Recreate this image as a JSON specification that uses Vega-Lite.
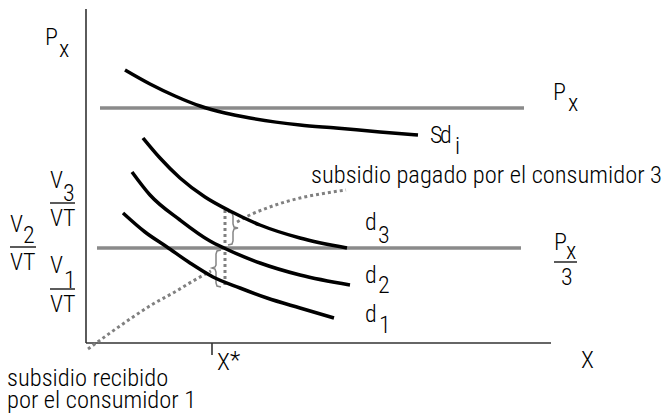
{
  "$schema": "https://vega.github.io/schema/vega-lite/v6.json",
  "width": 672,
  "height": 419,
  "autosize": {"type": "none"},
  "padding": 0,
  "config": {"view": {"stroke": null}},
  "datasets": {
    "rules": [
      {"x": 86, "y": 9, "x2": 86, "y2": 343},
      {"x": 86, "y": 343, "x2": 551, "y2": 343},
      {"x": 212, "y": 343, "x2": 212, "y2": 355},
      {"x": 50, "y": 203, "x2": 75, "y2": 203},
      {"x": 10, "y": 247, "x2": 36, "y2": 247},
      {"x": 50, "y": 289, "x2": 75, "y2": 289},
      {"x": 554, "y": 262, "x2": 577, "y2": 262}
    ],
    "prices": [
      {"x": 100, "x2": 524, "y": 108},
      {"x": 97, "x2": 521, "y": 248}
    ],
    "curves": [
      {"c": "Sd", "x": 125, "y": 70}, {"c": "Sd", "x": 150, "y": 84}, {"c": "Sd", "x": 175, "y": 96}, {"c": "Sd", "x": 200, "y": 106}, {"c": "Sd", "x": 225, "y": 113}, {"c": "Sd", "x": 250, "y": 118}, {"c": "Sd", "x": 300, "y": 125}, {"c": "Sd", "x": 336, "y": 128}, {"c": "Sd", "x": 380, "y": 132}, {"c": "Sd", "x": 418, "y": 135},
      {"c": "d3", "x": 143, "y": 138}, {"c": "d3", "x": 160, "y": 158}, {"c": "d3", "x": 180, "y": 178}, {"c": "d3", "x": 205, "y": 197}, {"c": "d3", "x": 230, "y": 211}, {"c": "d3", "x": 260, "y": 225}, {"c": "d3", "x": 300, "y": 238}, {"c": "d3", "x": 347, "y": 248},
      {"c": "d2", "x": 132, "y": 172}, {"c": "d2", "x": 150, "y": 195}, {"c": "d2", "x": 180, "y": 220}, {"c": "d2", "x": 210, "y": 241}, {"c": "d2", "x": 224, "y": 248}, {"c": "d2", "x": 260, "y": 263}, {"c": "d2", "x": 300, "y": 275}, {"c": "d2", "x": 350, "y": 285},
      {"c": "d1", "x": 123, "y": 213}, {"c": "d1", "x": 145, "y": 232}, {"c": "d1", "x": 167, "y": 247}, {"c": "d1", "x": 190, "y": 263}, {"c": "d1", "x": 213, "y": 277}, {"c": "d1", "x": 240, "y": 288}, {"c": "d1", "x": 267, "y": 298}, {"c": "d1", "x": 300, "y": 308}, {"c": "d1", "x": 334, "y": 318}
    ],
    "dotted": [
      {"s": "low", "x": 88, "y": 349}, {"s": "low", "x": 110, "y": 333}, {"s": "low", "x": 133, "y": 317}, {"s": "low", "x": 153, "y": 304}, {"s": "low", "x": 173, "y": 293}, {"s": "low", "x": 193, "y": 281}, {"s": "low", "x": 211, "y": 271},
      {"s": "up", "x": 237, "y": 222}, {"s": "up", "x": 250, "y": 215}, {"s": "up", "x": 267, "y": 208}, {"s": "up", "x": 285, "y": 202}, {"s": "up", "x": 300, "y": 198}, {"s": "up", "x": 320, "y": 194}, {"s": "up", "x": 346, "y": 190}
    ],
    "vdot": [
      {"x": 225, "y": 210, "y2": 287}
    ],
    "braces": [
      {"b": "up", "i": 0, "x": 228, "y": 212}, {"b": "up", "i": 1, "x": 232, "y": 213}, {"b": "up", "i": 2, "x": 233, "y": 216}, {"b": "up", "i": 3, "x": 233, "y": 224}, {"b": "up", "i": 4, "x": 234, "y": 227}, {"b": "up", "i": 5, "x": 238, "y": 228}, {"b": "up", "i": 6, "x": 234, "y": 229}, {"b": "up", "i": 7, "x": 233, "y": 232}, {"b": "up", "i": 8, "x": 233, "y": 241}, {"b": "up", "i": 9, "x": 232, "y": 244}, {"b": "up", "i": 10, "x": 228, "y": 245},
      {"b": "low", "i": 0, "x": 221, "y": 250}, {"b": "low", "i": 1, "x": 217, "y": 251}, {"b": "low", "i": 2, "x": 216, "y": 254}, {"b": "low", "i": 3, "x": 216, "y": 265}, {"b": "low", "i": 4, "x": 215, "y": 267}, {"b": "low", "i": 5, "x": 212, "y": 268}, {"b": "low", "i": 6, "x": 215, "y": 269}, {"b": "low", "i": 7, "x": 216, "y": 272}, {"b": "low", "i": 8, "x": 216, "y": 283}, {"b": "low", "i": 9, "x": 217, "y": 286}, {"b": "low", "i": 10, "x": 221, "y": 287}
    ],
    "labels": [
      {"x": 45, "y": 45, "t": "P"}, {"x": 59, "y": 57, "t": "x"},
      {"x": 553, "y": 100, "t": "P"}, {"x": 568, "y": 111, "t": "x"},
      {"x": 430, "y": 143, "t": "S"}, {"x": 440, "y": 143, "t": "d"}, {"x": 455, "y": 154, "t": "i"},
      {"x": 365, "y": 230, "t": "d"}, {"x": 378, "y": 243, "t": "3"},
      {"x": 365, "y": 283, "t": "d"}, {"x": 378, "y": 293, "t": "2"},
      {"x": 365, "y": 322, "t": "d"}, {"x": 379, "y": 333, "t": "1"},
      {"x": 554, "y": 250, "t": "P"}, {"x": 566, "y": 259, "t": "x"}, {"x": 561, "y": 285, "t": "3"},
      {"x": 581, "y": 368, "t": "X"},
      {"x": 217, "y": 370, "t": "X"}, {"x": 230, "y": 368, "t": "*"},
      {"x": 50, "y": 188, "t": "V"}, {"x": 63, "y": 201, "t": "3"}, {"x": 50, "y": 226, "t": "VT"},
      {"x": 10, "y": 232, "t": "V"}, {"x": 23, "y": 243, "t": "2"}, {"x": 10, "y": 270, "t": "VT"},
      {"x": 50, "y": 273, "t": "V"}, {"x": 64, "y": 288, "t": "1"}, {"x": 50, "y": 312, "t": "VT"}
    ],
    "notes": [
      {"x": 311, "y": 183, "t": "subsidio pagado por el consumidor 3"},
      {"x": 7, "y": 386, "t": "subsidio recibido"},
      {"x": 7, "y": 408, "t": "por el consumidor 1"}
    ]
  },
  "encoding": {
    "x": {"field": "x", "type": "quantitative", "scale": {"domain": [0, 672], "nice": false, "zero": false}, "axis": null},
    "y": {"field": "y", "type": "quantitative", "scale": {"domain": [0, 419], "nice": false, "zero": false, "reverse": true}, "axis": null}
  },
  "layer": [
    {
      "data": {"name": "prices"},
      "mark": {"type": "rule", "color": "#8a8a8a", "strokeWidth": 3.5},
      "encoding": {"x2": {"field": "x2"}}
    },
    {
      "data": {"name": "rules"},
      "mark": {"type": "rule", "color": "#333333", "strokeWidth": 1.6},
      "encoding": {"x2": {"field": "x2"}, "y2": {"field": "y2"}}
    },
    {
      "data": {"name": "dotted"},
      "mark": {"type": "line", "color": "#808080", "strokeWidth": 3, "strokeDash": [3, 3], "interpolate": "monotone"},
      "encoding": {"detail": {"field": "s"}}
    },
    {
      "data": {"name": "vdot"},
      "mark": {"type": "rule", "color": "#808080", "strokeWidth": 3, "strokeDash": [3, 3]},
      "encoding": {"y2": {"field": "y2"}}
    },
    {
      "data": {"name": "braces"},
      "mark": {"type": "line", "color": "#858585", "strokeWidth": 1.5, "interpolate": "linear"},
      "encoding": {"detail": {"field": "b"}, "order": {"field": "i", "type": "quantitative"}}
    },
    {
      "data": {"name": "curves"},
      "mark": {"type": "line", "color": "#000000", "strokeWidth": 3.5, "interpolate": "monotone"},
      "encoding": {"detail": {"field": "c"}}
    },
    {
      "data": {"name": "labels"},
      "mark": {"type": "text", "align": "left", "baseline": "alphabetic", "font": "Roboto Condensed", "fontSize": 24, "fontWeight": 300, "color": "#000000"},
      "encoding": {"text": {"field": "t"}}
    },
    {
      "data": {"name": "notes"},
      "mark": {"type": "text", "align": "left", "baseline": "alphabetic", "font": "Roboto Condensed", "fontSize": 24.5, "fontWeight": 300, "color": "#000000"},
      "encoding": {"text": {"field": "t"}}
    }
  ]
}
